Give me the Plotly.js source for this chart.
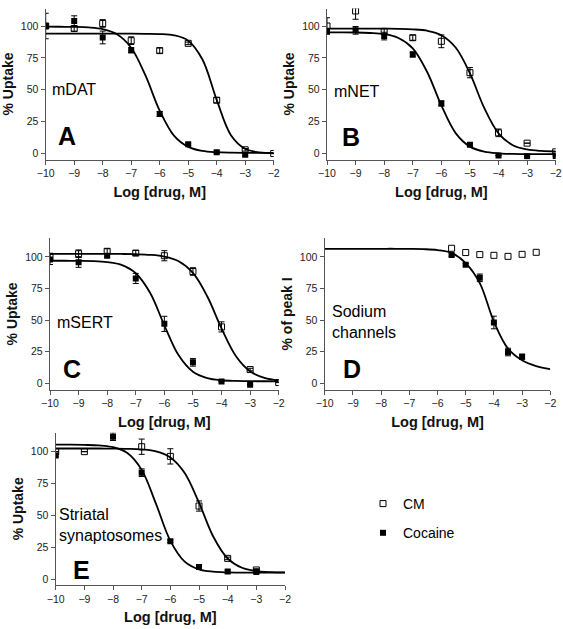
<!DOCTYPE html>
<html>
<head>
<meta charset="utf-8">
<script src="https://cdn.plot.ly/plotly-3.0.1.min.js"></script>
<style>html,body{margin:0;padding:0;background:#fff;}#chart{width:563px;height:629px;}</style>
</head>
<body>
<div id="chart"></div>
<script>
// ---------- data ----------
const doseX = [-10, -9, -8, -7, -6, -5, -4, -3, -2];
const curveX = [-10, -9.5, -9, -8.5, -8, -7.5, -7, -6.5, -6, -5.5, -5, -4.5, -4, -3.5, -3, -2.5, -2];

// Panel A - mDAT
const aCmY = [100, 98, 102, 88.5, 80.7, 86.4, 41.8, 2.9, 0];
const aCmErr = [2, 2, 3, 3, 2, 1, 2, 1, 0];
const aCocX = [-10, -9, -8, -7, -6, -5, -4, -3];
const aCocY = [100, 104, 91, 81, 31, 7.3, 1, -1];
const aCocErr = [10, 4, 5, 2, 2, 1, 1, 1];
const aCmFit = [94, 94, 94, 94, 94, 94, 94, 93.9, 93.7, 92.7, 88.5, 73.7, 42.1, 14.4, 3.7, 0.85, 0.19];
const aCocFit = [99.5, 99.4, 99.3, 98.9, 97.6, 93.6, 83.0, 61.2, 33.6, 14.0, 5.2, 2.0, 1.0, 0.66, 0.55, 0.52, 0.5];

// Panel B - mNET
const bCmY = [100, 111.8, 95.8, 90.8, 88, 63.4, 16.2, 8.1, 1.3];
const bCmErr = [6.5, 6.5, 2, 2, 5, 4, 3, 0, 0];
const bCocY = [96, 96.6, 92.1, 77.7, 39.3, 6.8, -1.6, -2.1, -2];
const bCocErr = [2, 3, 3, 2, 2, 1, 0, 0, 0];
const bCmFit = [98, 98, 98, 98, 97.9, 97.8, 97.4, 96.3, 92.8, 83.1, 62.8, 35.7, 15.8, 6.5, 3.15, 2.03, 1.67];
const bCocFit = [95, 95, 94.9, 94.5, 93.6, 90.6, 82.5, 64.1, 37.7, 16.0, 5.4, 1.45, 0.13, -0.3, -0.44, -0.48, -0.5];

// Panel C - mSERT
const cCmY = [100, 102.6, 104.5, 103.1, 101, 88.5, 44.6, 10.8, 0.5];
const cCmErr = [3, 3, 2, 2, 4, 3, 4, 1, 0];
const cCocX = [-10, -9, -8, -7, -6, -5, -4, -3];
const cCocY = [98, 95.8, 101, 83, 47, 16.5, 1.3, -1.3];
const cCocErr = [4, 4, 1, 4, 6, 3, 0, 0];
const cCmFit = [102.5, 102.5, 102.5, 102.5, 102.46, 102.4, 102.2, 101.7, 100.3, 96.6, 87.4, 68.9, 43.4, 21.6, 9.4, 4.15, 2.14];
const cCocFit = [97, 97, 96.9, 96.7, 95.9, 93.7, 87.1, 71.6, 45.9, 22.1, 9.1, 4.06, 2.32, 1.76, 1.58, 1.53, 1.5];

// Panel D - Sodium channels
const dCmX = [-5.5, -5, -4.5, -4, -3.5, -3, -2.5];
const dCmY = [106.9, 103.5, 101.9, 101.3, 100.5, 102.1, 103.7];
const dCocX = [-5.5, -5, -4.5, -4, -3.5, -3];
const dCocY = [101.6, 93.9, 83.5, 48.1, 24.7, 21.0];
const dCocErr = [1, 1, 3, 5, 3, 2];
const dCocFit = [106.5, 106.5, 106.5, 106.5, 106.5, 106.5, 106.4, 106.2, 105.5, 103.2, 95.2, 79.3, 48.7, 27.4, 18.1, 13.5, 11.2];

// Panel E - Striatal synaptosomes
const eCmX = [-10, -9, -7, -6, -5, -4, -3];
const eCmY = [100, 100, 103.9, 96.3, 57.3, 16.2, 7.1];
const eCmErr = [0, 0, 6, 6, 4, 1, 1];
const eCocX = [-10, -8, -7, -6, -5, -4, -3];
const eCocY = [96.9, 111.8, 83.5, 29.6, 9.4, 5.8, 5.5];
const eCocErr = [1, 3, 3, 1, 1, 1, 1];
const eCmFit = [102.5, 102.5, 102.5, 102.5, 102.4, 102.2, 101.7, 100.2, 95.5, 83.3, 59.9, 33.2, 16.1, 8.82, 6.24, 5.40, 5.13];
const eCocFit = [105.5, 105.5, 105.3, 104.9, 103.5, 98.9, 85.7, 59.0, 30.0, 13.7, 7.63, 5.77, 5.22, 5.07, 5.02, 5.01, 5];

const xTicks = [-10, -9, -8, -7, -6, -5, -4, -3, -2];
const yTicks = [0, 25, 50, 75, 100];
const seriesNames = ['CM', 'Cocaine'];

// ---------- styling helpers ----------
const FONT = 'Liberation Sans, Arial, sans-serif';
const W = 563, H = 629;
const fx = p => p / W;
const fy = p => 1 - p / H;

function fitTrace(y, xa, ya) {
  return {x: curveX, y: y, xaxis: xa, yaxis: ya, mode: 'lines', type: 'scatter',
    line: {color: '#000', width: 1.8, shape: 'spline', smoothing: 1}, showlegend: false, hoverinfo: 'skip'};
}
function ptTrace(x, y, err, xa, ya, open, legend) {
  const t = {x: x, y: y, xaxis: xa, yaxis: ya, mode: 'markers', type: 'scatter',
    name: open ? seriesNames[0] : seriesNames[1],
    legendgroup: open ? 'cm' : 'coc',
    showlegend: !!legend,
    marker: open ? {symbol: 'square-open', size: 6, color: '#000', line: {width: 1, color: '#000'}}
                 : {symbol: 'square', size: 6, color: '#000', line: {width: 0}}};
  if (err) t.error_y = {type: 'data', array: err, visible: true, color: '#000', thickness: 1, width: 3};
  return t;
}

const traces = [
  fitTrace(aCmFit, 'x', 'y'), fitTrace(aCocFit, 'x', 'y'),
  ptTrace(doseX, aCmY, aCmErr, 'x', 'y', true), ptTrace(aCocX, aCocY, aCocErr, 'x', 'y', false),

  fitTrace(bCmFit, 'x2', 'y2'), fitTrace(bCocFit, 'x2', 'y2'),
  ptTrace(doseX, bCmY, bCmErr, 'x2', 'y2', true), ptTrace(doseX, bCocY, bCocErr, 'x2', 'y2', false),

  fitTrace(cCmFit, 'x3', 'y3'), fitTrace(cCocFit, 'x3', 'y3'),
  ptTrace(doseX, cCmY, cCmErr, 'x3', 'y3', true), ptTrace(cCocX, cCocY, cCocErr, 'x3', 'y3', false),

  fitTrace(dCocFit, 'x4', 'y4'),
  ptTrace(dCmX, dCmY, null, 'x4', 'y4', true), ptTrace(dCocX, dCocY, dCocErr, 'x4', 'y4', false),

  fitTrace(eCmFit, 'x5', 'y5'), fitTrace(eCocFit, 'x5', 'y5'),
  ptTrace(eCmX, eCmY, eCmErr, 'x5', 'y5', true, true), ptTrace(eCocX, eCocY, eCocErr, 'x5', 'y5', false, true)
];

function xAxis(d0, d1, anchor) {
  return {domain: [fx(d0), fx(d1)], anchor: anchor, range: [-10, -2], tickvals: xTicks,
    ticks: 'outside', ticklen: 4, tickwidth: 1, tickcolor: '#555', showline: true, linecolor: '#555', linewidth: 1.2,
    showgrid: false, zeroline: false, tickfont: {family: FONT, size: 10.5, color: '#222'},
    title: {text: 'Log [drug, M]', font: {family: FONT, size: 14.5, color: '#111', weight: 'bold'}, standoff: 8}};
}
function yAxis(p0, p1, r, anchor, title) {
  return {domain: [fy(p1), fy(p0)], anchor: anchor, range: r, tickvals: yTicks,
    ticks: 'outside', ticklen: 4, tickwidth: 1, tickcolor: '#555', showline: true, linecolor: '#555', linewidth: 1.2,
    showgrid: false, zeroline: false, tickfont: {family: FONT, size: 10.5, color: '#222'},
    title: {text: title, font: {family: FONT, size: 14, color: '#111', weight: 'bold'}, standoff: 4}};
}

function label(text, px, py, size, bold) {
  return {xref: 'paper', yref: 'paper', x: fx(px), y: fy(py), xanchor: 'left', yanchor: 'middle',
    text: text, showarrow: false, align: 'left',
    font: {family: FONT, size: size, color: '#000', weight: bold ? 'bold' : 'normal'}};
}

const layout = {
  width: W, height: H, margin: {l: 0, r: 0, t: 0, b: 0},
  paper_bgcolor: '#fff', plot_bgcolor: 'rgba(0,0,0,0)',
  font: {family: FONT, color: '#000'},
  xaxis: xAxis(45.7, 273.7, 'y'),
  yaxis: yAxis(8.5, 159.5, [-4.71, 113.73], 'x', '% Uptake'),
  xaxis2: xAxis(327, 555.7, 'y2'),
  yaxis2: yAxis(8.5, 159.5, [-4.71, 113.73], 'x2', '% Uptake'),
  xaxis3: xAxis(50, 278.7, 'y3'),
  yaxis3: yAxis(238.3, 389.5, [-5.0, 114.8], 'x3', '% Uptake'),
  xaxis4: xAxis(324.7, 550.3, 'y4'),
  yaxis4: yAxis(238.3, 389.5, [-5.0, 114.8], 'x4', '% of peak I'),
  xaxis5: xAxis(55.7, 285, 'y5'),
  yaxis5: yAxis(432.7, 585, [-4.71, 114.9], 'x5', '% Uptake'),
  showlegend: true,
  legend: {x: fx(363), y: fy(488), xanchor: 'left', yanchor: 'top', bgcolor: 'rgba(0,0,0,0)',
    font: {family: FONT, size: 14, color: '#000'}, traceorder: 'grouped', tracegroupgap: 8, itemwidth: 30},
  annotations: [
    label('mDAT', 50, 90, 16), label('A', 56, 136, 25, true),
    label('mNET', 332, 92, 16), label('B', 340, 137, 25, true),
    label('mSERT', 55, 322, 16), label('C', 61, 369, 25, true),
    label('Sodium<br>channels', 330, 322, 16), label('D', 341, 369, 25, true),
    label('Striatal<br>synaptosomes', 57, 525, 16), label('E', 71, 570, 25, true)
  ]
};

Plotly.newPlot('chart', traces, layout, {staticPlot: true, displayModeBar: false});
</script>
</body>
</html>
